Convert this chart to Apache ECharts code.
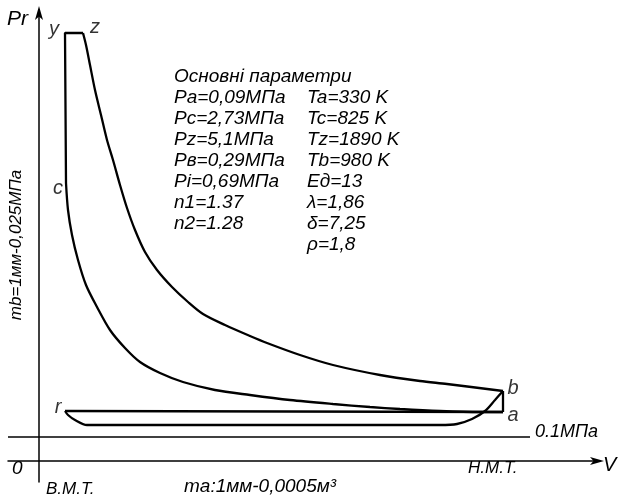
<!DOCTYPE html>
<html>
<head>
<meta charset="utf-8">
<script src="https://cdn.jsdelivr.net/npm/echarts@6/dist/echarts.min.js"></script>
<style>
  html, body { margin: 0; padding: 0; background: #fff; }
  #chart { width: 619px; height: 498px; }
</style>
</head>
<body>
<div id="chart"></div>
<script>
// Indicator diagram of the engine cycle, drawing units (mm) along V and P.
// Process lines as [V, P] pairs.
const compression = [ // a -> c
  [464, 49], [441, 49], [401, 50], [361, 52], [331, 54], [294, 57], [251, 61],
  [211, 66], [176, 71], [144, 79], [121, 88], [101, 99], [86, 113], [71, 131],
  [58, 154], [47, 176], [39, 201], [33, 226], [29, 251], [27, 278]
];
const combustion = [ // c -> y -> z
  [27, 278], [26, 428], [44, 428]
];
const expansion = [ // z -> b
  [44, 428], [47, 416], [51, 396], [56, 371], [62, 346], [68, 321], [74, 301],
  [81, 276], [88, 253], [96, 231], [106, 209], [118, 191], [133, 174], [149, 159],
  [164, 147], [186, 136], [211, 125], [228, 118], [261, 106], [294, 96], [341, 86],
  [381, 80], [408, 77], [464, 70]
];
const blowdown = [ // b -> a
  [464, 70], [464, 49]
];
const exhaust = [ // b -> r
  [464, 70], [456, 61], [446, 50], [433, 42], [418, 37], [401, 36], [48, 36],
  [36, 41], [29, 46], [26, 50]
];
const intake = [ // r -> a
  [26, 50], [464, 49]
];
const atmosphereLine = [[-31, 24], [491, 24]]; // 0.1 MPa level

// Characteristic points of the cycle
const pointNames = ['y', 'z', 'c', 'r', 'b', 'a'];
const pointV = [26, 44, 27, 26, 464, 464];
const pointP = [428, 428, 278, 50, 70, 49];
const pointLabelOffsets = [[-11, -4], [12, -6], [-8, 5], [-7, -4], [10, -3], [10, 3]];

// Parameter table
const paramTitle = 'Основні параметри';
const paramsLeft = ['Pa=0,09МПа', 'Pc=2,73МПа', 'Pz=5,1МПа', 'Pв=0,29МПа', 'Pi=0,69МПа', 'n1=1.37', 'n2=1.28'];
const paramsRight = ['Ta=330 K', 'Tc=825 K', 'Tz=1890 K', 'Tb=980 K', 'Eд=13', 'λ=1,86', 'δ=7,25', 'ρ=1,8'];

const FONT = '"Liberation Sans", Arial, sans-serif';
const LINE = { color: '#000', width: 2.3 };

function processSeries(data, smooth) {
  return {
    type: 'line', data: data, showSymbol: false, symbol: 'none',
    smooth: smooth, lineStyle: LINE, silent: true, clip: false, z: 3
  };
}

const chart = echarts.init(document.getElementById('chart'), null, { renderer: 'canvas' });

const option = {
  backgroundColor: '#fff',
  animation: false,
  grid: { left: 8, right: 19, top: 10, bottom: 16 },
  xAxis: {
    type: 'value', min: -31, max: 561,
    axisLine: { onZero: true, lineStyle: { color: '#000', width: 1.5 }, symbol: ['none', 'arrow'], symbolSize: [6, 14], symbolOffset: [0, 4] },
    axisTick: { show: false }, axisLabel: { show: false }, splitLine: { show: false }
  },
  yAxis: {
    type: 'value', min: -21, max: 451,
    axisLine: { onZero: true, lineStyle: { color: '#000', width: 1.5 }, symbol: ['none', 'arrow'], symbolSize: [6, 14], symbolOffset: [0, 4] },
    axisTick: { show: false }, axisLabel: { show: false }, splitLine: { show: false }
  },
  series: [
    { type: 'line', data: atmosphereLine, showSymbol: false, symbol: 'none', silent: true, clip: false,
      lineStyle: { color: '#000', width: 1.4 } },
    processSeries(intake, false),
    processSeries(exhaust, 0.3),
    processSeries(compression, 0.3),
    processSeries(combustion, false),
    processSeries(expansion, 0.3),
    processSeries(blowdown, false),
    {
      type: 'scatter', symbolSize: 0, silent: true, z: 4,
      data: pointNames.map((n, i) => ({
        value: [pointV[i], pointP[i]],
        label: {
          show: true, formatter: n, position: 'inside', offset: pointLabelOffsets[i],
          color: '#000', fontFamily: FONT, fontStyle: 'italic', fontSize: 20
        }
      }))
    }
  ],
  graphic: [
    { type: 'text', left: 174, top: 66, style: {
        text: [paramTitle].concat(paramsLeft).join('\n'),
        font: 'italic 19px ' + FONT, fill: '#000', lineHeight: 21 } },
    { type: 'text', left: 307, top: 87, style: {
        text: paramsRight.join('\n'),
        font: 'italic 19px ' + FONT, fill: '#000', lineHeight: 21 } },
    { type: 'text', x: 7, y: 9, style: { text: 'Pr', font: 'italic 21px ' + FONT, fill: '#000' } },
    { type: 'text', x: 603, y: 455, style: { text: 'V', font: 'italic 20px ' + FONT, fill: '#000' } },
    { type: 'text', x: 12, y: 459, style: { text: '0', font: 'italic 19px ' + FONT, fill: '#000' } },
    { type: 'text', x: 535, y: 423, style: { text: '0.1МПа', font: 'italic 18px ' + FONT, fill: '#000' } },
    { type: 'text', x: 46, y: 481, style: { text: 'В.М.Т.', font: 'italic 17px ' + FONT, fill: '#000' } },
    { type: 'text', x: 184, y: 477, style: { text: 'ma:1мм-0,0005м³', font: 'italic 19px ' + FONT, fill: '#000' } },
    { type: 'text', x: 468, y: 460, style: { text: 'Н.М.Т.', font: 'italic 17px ' + FONT, fill: '#000' } },
    { type: 'text', x: 16, y: 245, rotation: Math.PI / 2, style: {
        text: 'mb=1мм-0,025МПа', font: 'italic 17px ' + FONT, fill: '#000',
        align: 'center', verticalAlign: 'middle' } }
  ]
};

chart.setOption(option);
</script>
</body>
</html>
